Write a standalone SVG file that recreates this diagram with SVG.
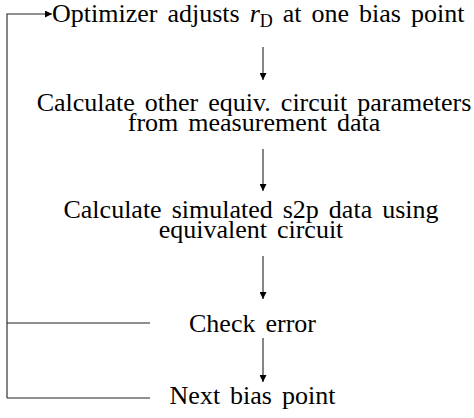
<svg xmlns="http://www.w3.org/2000/svg" width="474" height="418" viewBox="0 0 474 418">
  <style>
    text { font-family: "Liberation Serif", "Times New Roman", serif; font-size: 26px; fill: #000; word-spacing: 3.5px; }
    .c { text-anchor: middle; }
    .ln { fill: none; stroke: #222; stroke-width: 1.1; }
  </style>
  <defs>
    <marker id="arr" viewBox="0 0 10 10" refX="10" refY="5" markerWidth="7" markerHeight="7" markerUnits="userSpaceOnUse" orient="auto">
      <path d="M0,0 L10,5 L0,10 z" fill="#000"/>
    </marker>
  </defs>
  <rect width="474" height="418" fill="#fff"/>

  <g id="connectors">
    <path class="ln" d="M7,398 V14 H52" marker-end="url(#arr)"/>
    <path class="ln" d="M7,323 H150"/>
    <path class="ln" d="M7,398 H150"/>
    <path class="ln" d="M263,47 V80" marker-end="url(#arr)"/>
    <path class="ln" d="M263,149 V191" marker-end="url(#arr)"/>
    <path class="ln" d="M263,256 V299" marker-end="url(#arr)"/>
    <path class="ln" d="M263,338 V382" marker-end="url(#arr)"/>
  </g>

  <g id="optimize">
    <text x="52" y="22">Optimizer adjusts <tspan font-style="italic">r</tspan><tspan font-size="18" dy="5">D</tspan><tspan dy="-5"> at one bias point</tspan></text>
  </g>
  <g id="params">
    <text class="c" x="254" y="111">Calculate other equiv. circuit parameters</text>
    <text class="c" x="254" y="131">from measurement data</text>
  </g>
  <g id="simulate">
    <text class="c" x="251" y="218">Calculate simulated s2p data using</text>
    <text class="c" x="251" y="238">equivalent circuit</text>
  </g>
  <g id="check">
    <text class="c" x="252.5" y="332">Check error</text>
  </g>
  <g id="next">
    <text class="c" x="252.5" y="404">Next bias point</text>
  </g>
</svg>
